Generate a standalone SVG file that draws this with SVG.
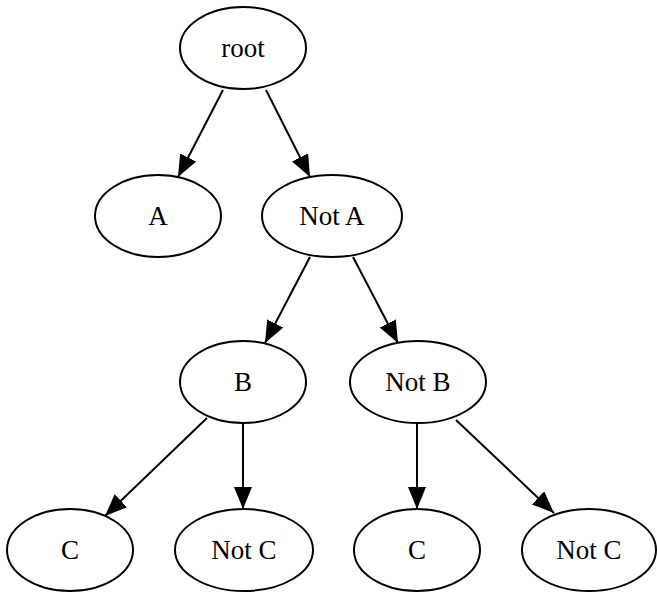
<svg xmlns="http://www.w3.org/2000/svg" width="657" height="593" viewBox="0 0 657 593">
<style>
.n ellipse{fill:#fff;stroke:#000;stroke-width:2}
.n text{font-family:"Liberation Serif","Times New Roman",serif;font-size:27px;text-anchor:middle;fill:#000}
#edges line{stroke:#000;stroke-width:2;marker-end:url(#ah)}
</style>
<defs>
<marker id="ah" markerUnits="userSpaceOnUse" markerWidth="22" markerHeight="18" refX="22" refY="9" orient="auto" viewBox="0 0 22 18">
<path d="M0,0 L22,9 L0,18 z" fill="#000"/>
</marker>
</defs>
<rect width="657" height="593" fill="#fff"/>
<g id="edges">
<line x1="223" y1="90" x2="178" y2="177"/>
<line x1="266" y1="90" x2="310" y2="177"/>
<line x1="310" y1="257" x2="265" y2="343"/>
<line x1="353" y1="257" x2="398" y2="343"/>
<line x1="207" y1="418" x2="105" y2="516"/>
<line x1="243" y1="424" x2="243" y2="509"/>
<line x1="417" y1="424" x2="417" y2="509"/>
<line x1="456" y1="420" x2="554" y2="513"/>
</g>
<g id="root" class="n"><ellipse cx="243" cy="48" rx="63" ry="41"/><text x="243" y="57">root</text></g>
<g id="A" class="n"><ellipse cx="158" cy="216" rx="63" ry="41"/><text x="158" y="225">A</text></g>
<g id="NotA" class="n"><ellipse cx="332" cy="216" rx="70" ry="41"/><text x="332" y="225">Not A</text></g>
<g id="B" class="n"><ellipse cx="243" cy="382" rx="63" ry="41"/><text x="243" y="391">B</text></g>
<g id="NotB" class="n"><ellipse cx="418" cy="382" rx="68" ry="41"/><text x="418" y="391">Not B</text></g>
<g id="C1" class="n"><ellipse cx="70" cy="550" rx="63" ry="41"/><text x="70" y="559">C</text></g>
<g id="NotC1" class="n"><ellipse cx="244" cy="550" rx="69" ry="41"/><text x="244" y="559">Not C</text></g>
<g id="C2" class="n"><ellipse cx="417" cy="550" rx="63" ry="41"/><text x="417" y="559">C</text></g>
<g id="NotC2" class="n"><ellipse cx="589" cy="550" rx="67" ry="41"/><text x="589" y="559">Not C</text></g>
</svg>
